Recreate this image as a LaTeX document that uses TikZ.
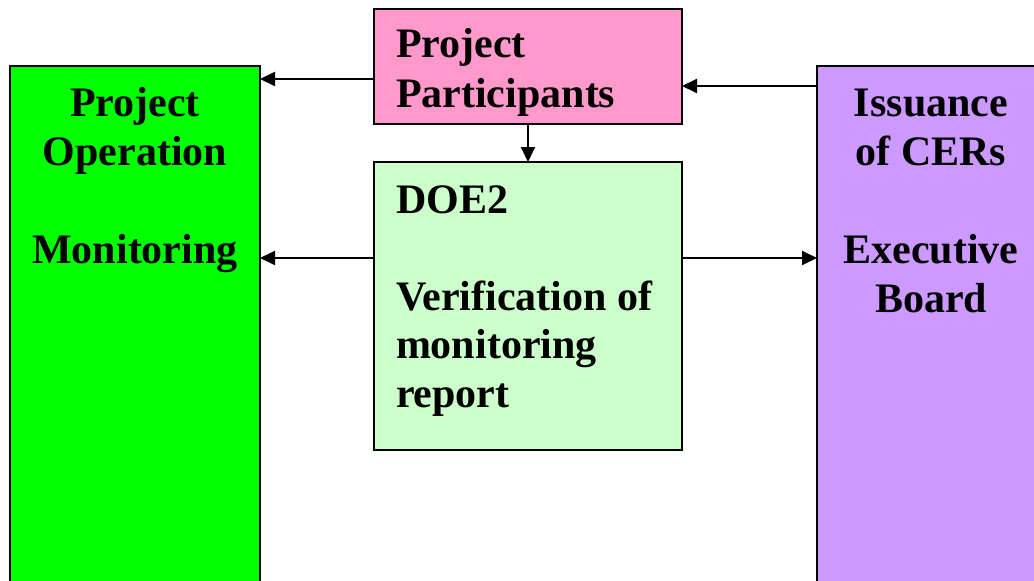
\documentclass[tikz,border=0pt]{standalone}
\usepackage{fontspec}
\setmainfont{Liberation Serif}
\usetikzlibrary{arrows.meta}
\definecolor{cgreen}{HTML}{00FF00}
\definecolor{cpink}{HTML}{FF99CC}
\definecolor{clight}{HTML}{CCFFCC}
\definecolor{cpurple}{HTML}{CC99FF}
\tikzset{
  box/.style={draw=black, line width=2pt, rectangle, anchor=north west, inner sep=0pt, outer sep=0pt},
  lbl/.style={inner sep=0pt, outer sep=0pt, font=\fontsize{42}{49}\selectfont\bfseries},
  arr/.style={line width=2pt, -{Triangle[length=15pt,width=14pt]}}
}
\begin{document}
\begin{tikzpicture}[x=1pt,y=-1pt]
\useasboundingbox (0,0) rectangle (1034,581);
\clip (0,0) rectangle (1034,581);
\fill[white] (0,0) rectangle (1034,581);
% boxes
\node[box, fill=cgreen, minimum width=250pt, minimum height=540pt] (green) at (10,66) {};
\node[box, fill=cpink, minimum width=308pt, minimum height=115pt] (pink) at (374,9) {};
\node[box, fill=clight, minimum width=308pt, minimum height=288pt] (doe) at (374,162) {};
\node[box, fill=cpurple, minimum width=230pt, minimum height=540pt] (purple) at (817,66) {};
% green text
\node[lbl, anchor=base] (g1) at (135,116) {Project};
\node[lbl, anchor=base] (g2) at (135,165) {Operation};
\node[lbl, anchor=base] (g3) at (135,263) {Monitoring};
% pink text
\node[lbl, anchor=base west] (p1) at (396,57) {Project};
\node[lbl, anchor=base west] (p2) at (396,107) {Participants};
% doe text
\node[lbl, anchor=base west] (d1) at (396,213) {DOE2};
\node[lbl, anchor=base west] (d2) at (396,310) {Verification of};
\node[lbl, anchor=base west] (d3) at (396,358) {monitoring};
\node[lbl, anchor=base west] (d4) at (396,407) {report};
% purple text
\node[lbl, anchor=base] (u1) at (931,116) {Issuance};
\node[lbl, anchor=base] (u2) at (931,165) {of CERs};
\node[lbl, anchor=base] (u3) at (931,263) {Executive};
\node[lbl, anchor=base] (u4) at (931,312) {Board};
% connectors
\draw[arr] ([yshift=-12.5pt]pink.west) -- ([yshift=-12.5pt]pink.west -| green.east);
\draw[arr] ([yshift=-19.5pt]pink.east -| purple.west) -- ([yshift=-19.5pt]pink.east);
\draw[arr] (pink.south) -- (doe.north);
\draw[arr] ([yshift=48pt]doe.west) -- ([yshift=48pt]doe.west -| green.east);
\draw[arr] ([yshift=48pt]doe.east) -- ([yshift=48pt]doe.east -| purple.west);
\end{tikzpicture}
\end{document}
